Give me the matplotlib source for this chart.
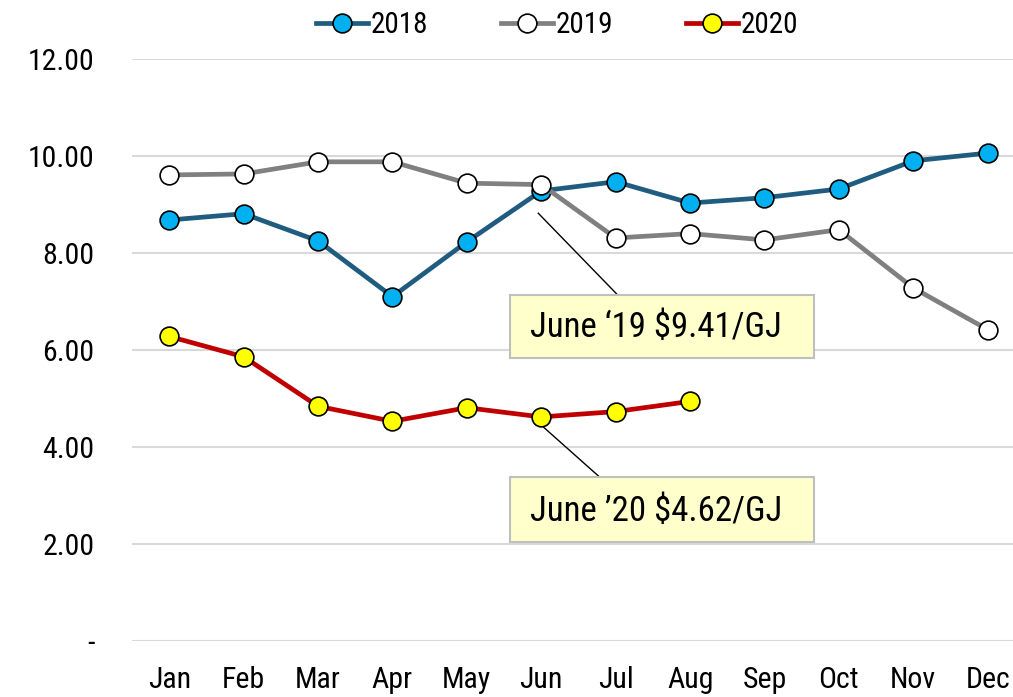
import matplotlib.pyplot as plt
from matplotlib.patches import Rectangle

plt.rcParams['font.family'] = ['Roboto Condensed', 'Liberation Sans', 'DejaVu Sans']

months = ["Jan", "Feb", "Mar", "Apr", "May", "Jun", "Jul", "Aug", "Sep", "Oct", "Nov", "Dec"]
y2018 = [8.68, 8.81, 8.25, 7.10, 8.23, 9.28, 9.47, 9.03, 9.14, 9.32, 9.90, 10.06]
y2019 = [9.61, 9.63, 9.88, 9.88, 9.44, 9.41, 8.31, 8.40, 8.27, 8.48, 7.28, 6.42]
y2020 = [6.28, 5.86, 4.84, 4.53, 4.81, 4.62, 4.73, 4.94]
yticks = [0, 2, 4, 6, 8, 10, 12]
ytick_labels = ["-", "2.00", "4.00", "6.00", "8.00", "10.00", "12.00"]
notes = ["June \u201819 $9.41/GJ", "June \u201920 $4.62/GJ"]

fig = plt.figure(figsize=(10.13, 6.97), dpi=100)
ax = fig.add_axes([132 / 1013, 1 - 641 / 697, 1 - 132 / 1013, (641 - 59) / 697])

x = list(range(len(months)))
style = dict(lw=3.4, marker="o", ms=13.5, mec="black", mew=1.2)
ax.plot(x, y2018, color="#1F5C80", mfc="#00B0F0", label="2018", zorder=3, **style)
ax.plot(x, y2019, color="#808080", mfc="white", label="2019", zorder=4, **style)
ax.plot(x[:len(y2020)], y2020, color="#C00000", mfc="#FFFF00", label="2020", zorder=3, **style)

ax.set_xlim(-0.5, 11.34)
ax.set_ylim(0, 12)
ax.set_xticks(x)
ax.set_xticklabels(months)
ax.set_yticks(yticks)
ax.set_yticklabels(ytick_labels)
ax.tick_params(length=0, labelsize=21.5)
ax.tick_params(axis="x", pad=18)
ax.tick_params(axis="y", pad=27)
ax.grid(axis="y", color="#D9D9D9", lw=1.5)
ax.set_axisbelow(True)
for s in ax.spines.values():
    s.set_visible(False)

# callouts: box (x, y, w, h), text y, leader line ends
boxes = [(4.58, 5.84, 4.08, 1.29, 6.47, (4.96, 8.82), (6.03, 7.13)),
         (4.58, 2.04, 4.08, 1.34, 2.66, (5.03, 4.41), (5.77, 3.40))]
for note, (bx, by, bw, bh, ty, p0, p1) in zip(notes, boxes):
    ax.plot([p0[0], p1[0]], [p0[1], p1[1]], color="black", lw=1, zorder=2)
    ax.add_patch(Rectangle((bx, by), bw, bh, facecolor="#FFFFCC",
                           edgecolor="#BFBFBF", lw=1.5, zorder=5))
    ax.text(bx + 0.27, ty, note, fontsize=25, va="center", ha="left", zorder=6)

fig.legend(loc="center", bbox_to_anchor=(557 / 1013, 1 - 25 / 697), ncol=3, frameon=False,
           fontsize=21, handlelength=1.78, handletextpad=0.1, columnspacing=2.5)

fig.savefig("out.png", dpi=100)
